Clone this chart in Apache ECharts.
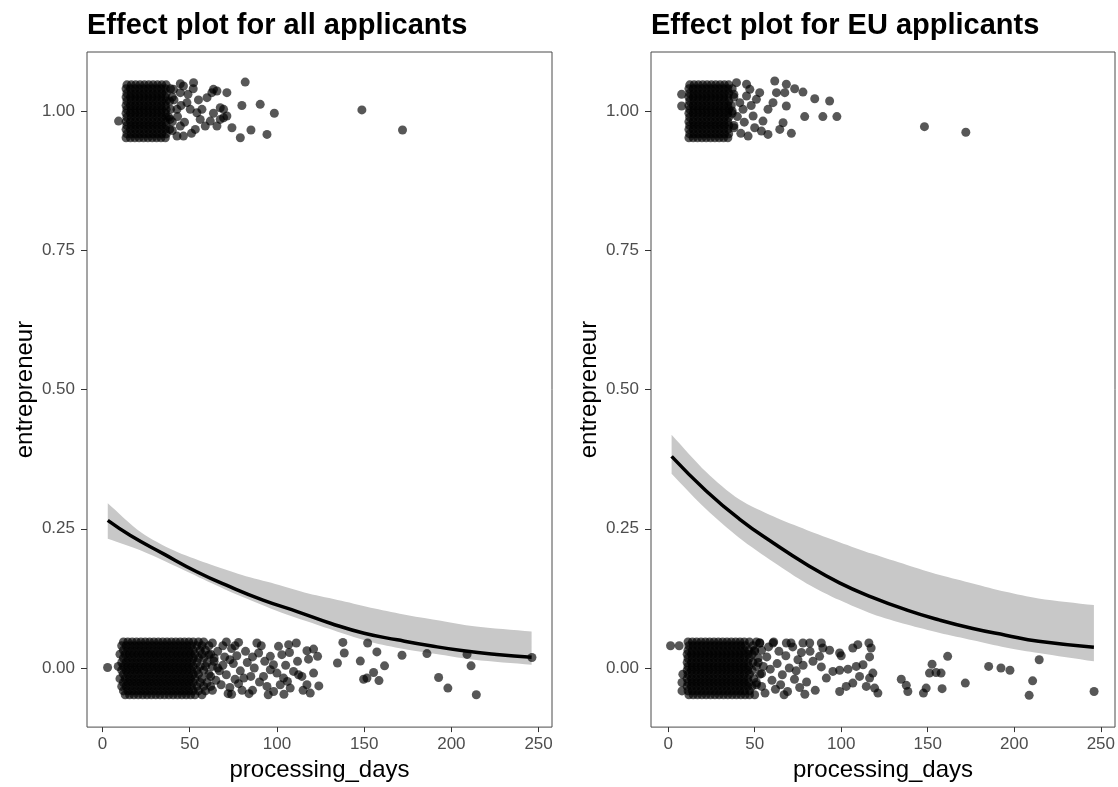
<!DOCTYPE html>
<html lang="en">
<head>
<meta charset="utf-8">
<title>Effect plots</title>
<style>
  html, body, #chart { width: 100%; height: 100%; margin: 0; padding: 0; background: #fff; }
</style>
</head>
<body>
<div id="chart"></div>
<script src="https://cdn.jsdelivr.net/npm/echarts@6/dist/echarts.min.js"></script>
<script>
// ---- data ----
// jittered rows: first value is the jittered y, the rest are processing_days
const allZeroRows = [
  [0.047, 12,14.5,17,19.5,22,24.5,27,29.5,32,34.5,37,39.5,42,44.5,47,49.5,52,55,58],
  [0.040, 11,13.5,16,18.5,21,23.5,26,28.5,31,33.5,36,38.5,41,43.5,46,48.5,51,54,57,61],
  [0.032, 12,14.5,17,19.5,22,24.5,27,29.5,32,34.5,37,39.5,42,44.5,47,49.5,52,56,59],
  [0.025, 10,13,15.5,18,20.5,23,25.5,28,30.5,33,35.5,38,40.5,43,45.5,48,50.5,53,57,62],
  [0.018, 12,14.5,17,19.5,22,24.5,27,29.5,32,34.5,37,39.5,42,44.5,47,49.5,52,55,58,64],
  [0.010, 11,13.5,16,18.5,21,23.5,26,28.5,31,33.5,36,38.5,41,43.5,46,48.5,51,54,60],
  [0.003, 9,12,14.5,17,19.5,22,24.5,27,29.5,32,34.5,37,39.5,42,44.5,47,49.5,52,56,59,63],
  [-0.004, 11,13.5,16,18.5,21,23.5,26,28.5,31,33.5,36,38.5,41,43.5,46,48.5,51,54,58],
  [-0.011, 12,14.5,17,19.5,22,24.5,27,29.5,32,34.5,37,39.5,42,44.5,47,49.5,52,55,61],
  [-0.019, 10,13,15.5,18,20.5,23,25.5,28,30.5,33,35.5,38,40.5,43,45.5,48,50.5,53,57],
  [-0.026, 12,14.5,17,19.5,22,24.5,27,29.5,32,34.5,37,39.5,42,44.5,47,49.5,52,56,60],
  [-0.033, 11,13.5,16,18.5,21,23.5,26,28.5,31,33.5,36,38.5,41,43.5,46,48.5,51,54,58,62],
  [-0.041, 12,14.5,17,19.5,22,24.5,27,29.5,32,34.5,37,39.5,42,44.5,47,49.5,52,55,59],
  [-0.048, 13,15.5,18,20.5,23,25.5,28,30.5,33,35.5,38,40.5,43,45.5,48,50.5,53,57]
];
const allZeroLoose = [
  [63,0.045],[66,0.03],[64,0.012],[67,-0.005],[65,-0.022],[63,-0.04],[69,0.04],[70,0.02],[71,-0.012],
  [68,-0.03],[72,-0.046],[74,0.035],[75,0.008],[76,-0.02],[73,-0.035],[78,0.046],[77,0.022],[79,-0.005],
  [80,-0.04],[66,0.0],[61,0.024],[62,-0.015],[69,0.005],[73,0.015],[76,0.04],[71,0.047],[74,-0.047],
  [78,-0.028],[82,0.03],[83,0.01],[81,-0.018],[84,-0.046],
  [88.5,0.045],[89.5,0.027],[96.2,0.021],[100.9,0.039],[102.8,0.024],[106.7,0.042],[107.2,0.028],
  [111.1,0.045],[111.8,0.012],[117.2,0.031],[118.1,0.016],[121,0.034],[123.3,0.021],[112.4,-0.012],
  [109.5,-0.006],[114.3,-0.015],[121,-0.009],[103.8,-0.018],[101.9,-0.03],[107.6,-0.036],[94.3,-0.033],
  [98.1,-0.042],[117.2,-0.03],[119.1,-0.045],[96.2,-0.003],[100,-0.009],[92.3,-0.015],[86,-0.04],
  [90,-0.025],[95,-0.048],[104,-0.047],[106,-0.024],[115,-0.04],[124,-0.032],[98,0.006],[93,0.012],
  [86,0.02],[87,0.0],[91,0.04],[85,-0.015],[105,0.005],
  [2.9,0.001],[134.7,0.009],[137.8,0.046],[138.6,0.027],[147.8,0.0125],[152,0.045],[157.3,0.029],
  [161.7,0.004],[171.7,0.023],[186,0.026],[209,0.0245],[211.3,0.004],[246.2,0.019],[155.4,-0.008],
  [151.6,-0.018],[149.7,-0.02],[158.5,-0.0225],[192.7,-0.017],[198,-0.036],[214.3,-0.048]
];
const allOneRows = [
  [1.047, 14,16.5,19,21.5,24,26.5,29,31.5,34,36.5],
  [1.040, 13.5,16,18.5,21,23.5,26,28.5,31,33.5,36,39],
  [1.032, 14,16.5,19,21.5,24,26.5,29,31.5,34,36.5],
  [1.025, 13.5,16,18.5,21,23.5,26,28.5,31,33.5,36,40],
  [1.018, 14,16.5,19,21.5,24,26.5,29,31.5,34,36.5,38.5],
  [1.010, 13.5,16,18.5,21,23.5,26,28.5,31,33.5,36],
  [1.003, 14,16.5,19,21.5,24,26.5,29,31.5,34,36.5,39],
  [0.996, 13.5,16,18.5,21,23.5,26,28.5,31,33.5,36],
  [0.989, 14,16.5,19,21.5,24,26.5,29,31.5,34,36.5,38],
  [0.981, 13.5,16,18.5,21,23.5,26,28.5,31,33.5,36,40],
  [0.974, 14,16.5,19,21.5,24,26.5,29,31.5,34,36.5],
  [0.967, 13.5,16,18.5,21,23.5,26,28.5,31,33.5,36,38.5],
  [0.959, 14,16.5,19,21.5,24,26.5,29,31.5,34,36.5],
  [0.952, 13.5,16,18.5,21,23.5,26,28.5,31,33.5,36]
];
const allOneLoose = [
  [9.2,0.982],[44.6,1.049],[52.2,1.051],[63.6,1.039],[71.3,1.033],[81.8,1.052],[79.9,1.01],[90.4,1.012],
  [98.5,0.996],[148.7,1.002],[172,0.966],[85.1,0.966],[94.3,0.958],[79,0.952],[74.2,0.97],[69.4,0.988],
  [71.3,0.991],[63.6,0.996],[61.8,0.982],[54.1,0.997],[57,1.003],[58.9,0.973],[53.2,0.967],[44.6,0.973],
  [42.7,0.955],[46.4,0.955],[48.4,1.015],[50.3,1.003],[59.9,1.024],[62.7,1.033],[65.6,1.036],[67.5,1.006],
  [69.4,1.003],[44.6,1.033],[46.4,1.045],[40.7,1.039],[38.8,0.985],[42.7,1.003],[67.5,0.985],[65.6,0.973],
  [41,1.02],[43,0.99],[47,0.98],[49,1.03],[52,1.04],[55,1.02],[51,0.96],[56,0.985],[40,0.965],[45,1.01]
];
const euZeroRows = [
  [0.047, 11.5,14,16.5,19,21.5,24,26.5,29,31.5,34,36.5,39,41.5,44,47,51],
  [0.040, 1.4,6.4,12,14.5,17,19.5,22,24.5,27,29.5,32,34.5,37,39.5,42,44.5,49],
  [0.032, 11.5,14,16.5,19,21.5,24,26.5,29,31.5,34,36.5,39,41.5,44,46.5,50,54],
  [0.025, 11,13.5,16,18.5,21,23.5,26,28.5,31,33.5,36,38.5,41,43.5,46,48.5],
  [0.018, 11.5,14,16.5,19,21.5,24,26.5,29,31.5,34,36.5,39,41.5,44,47,52],
  [0.010, 11,13.5,16,18.5,21,23.5,26,28.5,31,33.5,36,38.5,41,43.5,46,49],
  [0.003, 11.5,14,16.5,19,21.5,24,26.5,29,31.5,34,36.5,39,41.5,44,46.5,51,55],
  [-0.004, 11,13.5,16,18.5,21,23.5,26,28.5,31,33.5,36,38.5,41,43.5,46,48.5],
  [-0.011, 8.5,11.5,14,16.5,19,21.5,24,26.5,29,31.5,34,36.5,39,41.5,44,47,53],
  [-0.019, 11,13.5,16,18.5,21,23.5,26,28.5,31,33.5,36,38.5,41,43.5,46,49.5],
  [-0.026, 8,11.5,14,16.5,19,21.5,24,26.5,29,31.5,34,36.5,39,41.5,44,46.5,51],
  [-0.033, 11,13.5,16,18.5,21,23.5,26,28.5,31,33.5,36,38.5,41,43.5,46,48.5,54],
  [-0.041, 8,11.5,14,16.5,19,21.5,24,26.5,29,31.5,34,36.5,39,41.5,44,47],
  [-0.048, 12,14.5,17,19.5,22,24.5,27,29.5,32,34.5,37,39.5,42,44.5,47,50]
];
const euZeroLoose = [
  [52.9,0.045],[60.6,0.045],[68.3,0.045],[77.9,0.045],[81.8,0.045],[88.5,0.045],[89.4,0.036],[93.3,0.032],
  [99.1,0.027],[100,0.022],[106.7,0.036],[109.6,0.042],[116,0.045],[117.3,0.036],[116.4,0.02],[87.5,0.021],
  [83.7,0.012],[88.5,0.002],[95.2,-0.006],[99.1,-0.004],[103.9,-0.002],[108.7,0.003],[112.6,0.006],
  [118.3,-0.009],[116.4,-0.018],[110.6,-0.015],[106.7,-0.027],[102.9,-0.033],[99.1,-0.042],[114.5,-0.033],
  [119.3,-0.036],[121.2,-0.045],[91.4,-0.018],
  [50,0.03],[52,0.01],[54,-0.01],[51,-0.03],[56,-0.045],[58,0.038],[57,0.02],[59,-0.002],[60,-0.022],
  [62,-0.038],[64,0.03],[63,0.008],[66,-0.012],[65,-0.03],[68,0.022],[70,0.0],[69,-0.042],[72,0.038],
  [73,-0.02],[75,0.015],[76,-0.035],[78,0.005],[80,-0.025],[82,0.03],[85,-0.04],[53,0.045],[61,0.047],
  [67,-0.048],[71,0.045],[74,-0.005],[77,0.028],[79,-0.047],
  [152.5,0.007],[154.8,-0.008],[151,-0.009],[157.7,-0.009],[161.5,0.021],[134.7,-0.02],[137.6,-0.031],
  [138.5,-0.042],[149.1,-0.036],[147.5,-0.045],[158.3,-0.037],[171.7,-0.027],[185.2,0.003],[192.3,0.0],
  [197.5,-0.004],[214.4,0.015],[210.6,-0.023],[208.6,-0.049],[246.1,-0.042]
];
const euOneRows = [
  [1.047, 12.5,15,17.5,20,22.5,25,27.5,30,32.5,35],
  [1.040, 12,14.5,17,19.5,22,24.5,27,29.5,32,34.5,37],
  [1.032, 12.5,15,17.5,20,22.5,25,27.5,30,32.5,35],
  [1.025, 12,14.5,17,19.5,22,24.5,27,29.5,32,34.5,38],
  [1.018, 12.5,15,17.5,20,22.5,25,27.5,30,32.5,35],
  [1.010, 12,14.5,17,19.5,22,24.5,27,29.5,32,34.5,36.5],
  [1.003, 12.5,15,17.5,20,22.5,25,27.5,30,32.5,35],
  [0.996, 12,14.5,17,19.5,22,24.5,27,29.5,32,34.5,37],
  [0.989, 12.5,15,17.5,20,22.5,25,27.5,30,32.5,35],
  [0.981, 12,14.5,17,19.5,22,24.5,27,29.5,32,34.5],
  [0.974, 12.5,15,17.5,20,22.5,25,27.5,30,32.5,35,38],
  [0.967, 12,14.5,17,19.5,22,24.5,27,29.5,32,34.5],
  [0.959, 12.5,15,17.5,20,22.5,25,27.5,30,32.5,35],
  [0.952, 12,14.5,17,19.5,22,24.5,27,29.5,32,34.5]
];
const euOneLoose = [
  [7.8,1.03],[7.8,1.009],[39.5,1.051],[45.3,1.048],[61.6,1.054],[68.3,1.048],[73.1,1.04],[77.9,1.034],
  [84.7,1.022],[93.3,1.018],[78.9,0.99],[89.4,0.99],[97.5,0.99],[148.1,0.972],[172,0.962],[71.2,0.96],
  [64.5,0.967],[66.4,0.979],[68.3,1.009],[62.6,1.033],[67.4,1.033],[60.6,1.015],[57.7,1.003],[52.9,1.033],
  [51,1.021],[49.1,0.991],[54.8,0.982],[57.7,0.958],[53.9,0.964],[46.2,0.955],[41.4,1.015],[43.3,1.003],
  [47.2,1.039],[45.3,1.027],[38,0.97],[40,0.99],[42,0.96],[38,1.03],[44,0.98],[48,1.01],[50,0.97],[37,1.0]
];

// fitted curves and confidence bands
const allCurveX = [3,16,35,54,73,92,112,131,150,169,188,207,226,246];
const allCurveY = [0.265,0.238,0.205,0.173,0.146,0.122,0.101,0.080,0.0625,0.0507,0.040,0.031,0.0245,0.0196];
const allBandX  = [3,22,41,60,80,99,118,137,156,175,194,213,246];
const allBandHi = [0.296,0.244,0.211,0.188,0.167,0.151,0.134,0.121,0.107,0.095,0.085,0.075,0.0655];
const allBandLo = [0.232,0.211,0.184,0.156,0.128,0.104,0.083,0.063,0.045,0.033,0.024,0.015,0.006];

const euCurveX = [2,22,41,61,80,99,118,138,157,176,195,214,246];
const euCurveY = [0.38,0.318,0.268,0.224,0.186,0.153,0.127,0.104,0.086,0.071,0.059,0.048,0.0375];
const euBandX  = [2,22,41,61,80,99,118,138,157,176,195,214,246];
const euBandHi = [0.419,0.352,0.303,0.272,0.248,0.226,0.205,0.185,0.167,0.152,0.137,0.125,0.113];
const euBandLo = [0.349,0.285,0.234,0.190,0.152,0.122,0.097,0.078,0.063,0.050,0.037,0.027,0.012];

const xTicks = [0, 50, 100, 150, 200, 250];
const yTicks = [0, 0.25, 0.5, 0.75, 1];
const titles = ['Effect plot for all applicants', 'Effect plot for EU applicants'];

// ---- build ----
const FONT = 'Liberation Sans, Arial, sans-serif';
function rowsToPoints(rows) {
  return rows.flatMap(r => r.slice(1).map(x => [x, r[0]]));
}
function zip(xs, ys) { return xs.map((x, i) => [x, ys[i]]); }

const panels = [
  { left: 87, xmin: -8.9, xmax: 257.7,
    pts: rowsToPoints(allZeroRows).concat(allZeroLoose, rowsToPoints(allOneRows), allOneLoose),
    cx: allCurveX, cy: allCurveY, bx: allBandX, hi: allBandHi, lo: allBandLo },
  { left: 651, xmin: -9.9, xmax: 258.2,
    pts: rowsToPoints(euZeroRows).concat(euZeroLoose, rowsToPoints(euOneRows), euOneLoose),
    cx: euCurveX, cy: euCurveY, bx: euBandX, hi: euBandHi, lo: euBandLo }
];

const grid = [], xAxis = [], yAxis = [], series = [], title = [];
panels.forEach((p, i) => {
  title.push({
    text: titles[i], left: p.left, top: 11, padding: 0,
    textStyle: { fontFamily: FONT, fontWeight: 'bold', fontSize: 29, color: '#000' }
  });
  grid.push({
    left: p.left, top: 52, width: 465, height: 679,
    show: true, borderColor: '#4a4a4a', borderWidth: 1, backgroundColor: '#fff'
  });
  xAxis.push({
    type: 'value', gridIndex: i, min: p.xmin, max: p.xmax,
    name: 'processing_days', nameLocation: 'middle', nameGap: 23,
    nameTextStyle: { fontFamily: FONT, fontSize: 24, color: '#000' },
    axisLine: { show: false, onZero: false },
    axisTick: { show: true, length: 5, customValues: xTicks, lineStyle: { color: '#333' } },
    axisLabel: { customValues: xTicks, margin: 9, fontFamily: FONT, fontSize: 17, color: '#4d4d4d' },
    splitLine: { show: false }
  });
  yAxis.push({
    type: 'value', gridIndex: i, min: -0.106, max: 1.106,
    name: 'entrepreneur', nameLocation: 'middle', nameGap: 50, nameRotate: 90,
    nameTextStyle: { fontFamily: FONT, fontSize: 24, color: '#000' },
    axisLine: { show: false, onZero: false },
    axisTick: { show: true, length: 6, customValues: yTicks, lineStyle: { color: '#333' } },
    axisLabel: { customValues: yTicks, margin: 12, fontFamily: FONT, fontSize: 17, color: '#4d4d4d',
                 formatter: v => v.toFixed(2) },
    splitLine: { show: false }
  });
  // confidence band as one smoothed polygon; corner vertices doubled so the ends stay square
  series.push({
    type: 'custom', xAxisIndex: i, yAxisIndex: i, z: 1, silent: true, clip: true,
    data: [0],
    renderItem: (params, api) => {
      const upper = p.bx.map((x, k) => api.coord([x, p.hi[k]]));
      const lower = p.bx.map((x, k) => api.coord([x, p.lo[k]])).reverse();
      const n = upper.length;
      const pts = [upper[0]].concat(upper, [upper[n - 1]], [lower[0]], lower, [lower[n - 1]]);
      const xs = pts.map(q => q[0]), ys = pts.map(q => q[1]);
      const box = [[Math.min(...xs), Math.min(...ys)], [Math.max(...xs), Math.max(...ys)]];
      return {
        type: 'polygon',
        shape: { points: pts, smooth: 0.3, smoothConstraint: box },
        style: { fill: '#c8c8c8', stroke: null }
      };
    }
  });
  series.push({
    type: 'scatter', xAxisIndex: i, yAxisIndex: i, z: 2,
    data: p.pts, symbolSize: 9,
    itemStyle: { color: 'rgba(0,0,0,0.66)', opacity: 1 }, silent: true
  });
  series.push({
    type: 'line', xAxisIndex: i, yAxisIndex: i, z: 3,
    data: zip(p.cx, p.cy), showSymbol: false, symbol: 'none', smooth: true,
    lineStyle: { color: '#000', width: 3.5 }, silent: true
  });
});

const chart = echarts.init(document.getElementById('chart'));
chart.setOption({ animation: false, backgroundColor: '#fff', title, grid, xAxis, yAxis, series });
</script>
</body>
</html>
